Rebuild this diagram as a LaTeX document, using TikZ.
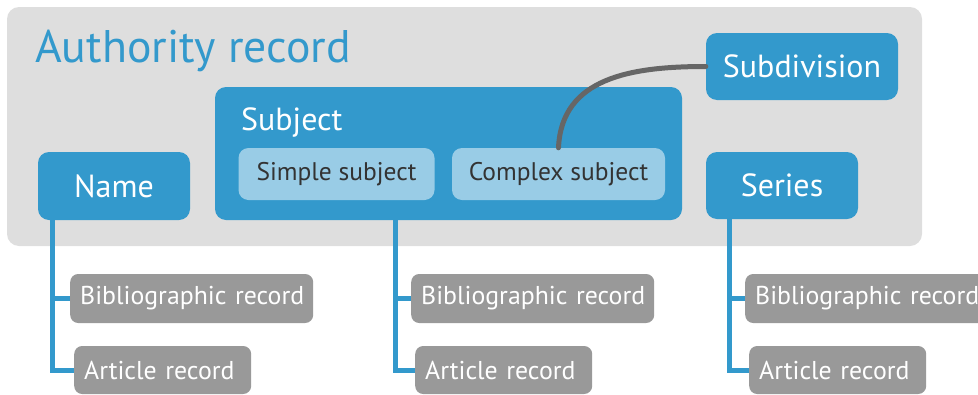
\documentclass[tikz,border=0pt]{standalone}
\usepackage{fontspec}
\setmainfont{PT Sans}
\usetikzlibrary{calc}
\definecolor{authblue}{HTML}{3399CC}
\definecolor{lightblue}{HTML}{99CCE6}
\definecolor{bggray}{HTML}{DEDEDE}
\definecolor{recgray}{HTML}{999999}
\definecolor{curvegray}{HTML}{666666}
\definecolor{darktext}{HTML}{333333}

\begin{document}
\begin{tikzpicture}[x=1pt, y=-1pt,
    bluebox/.style={fill=authblue, text=white, rounded corners=11pt, inner sep=0pt,
        font=\fontsize{32}{38}\selectfont},
    subbox/.style={fill=lightblue, text=darktext, rounded corners=10pt, inner sep=0pt,
        minimum height=52pt, font=\fontsize{25.5}{30}\selectfont},
    recbox/.style={fill=recgray, text=white, rounded corners=8pt, anchor=west,
        inner xsep=10pt, inner ysep=0pt, align=left, font=\fontsize{25.8}{31}\selectfont},
    trunk/.style={draw=authblue, line width=5pt}]
    \useasboundingbox (0,0) rectangle (978,394);

    % 背景 Authority record
    \fill[bggray, rounded corners=12pt] (7,7) rectangle (922,246);
    \node[anchor=base west, inner sep=0pt, text=authblue, font=\fontsize{45.7}{52}\selectfont]
        (title) at (35,62) {Authority record};

    % Subject 及其子类
    \node[bluebox, minimum width=467pt, minimum height=133pt] (subject) at (448.5,153.5) {};
    \node[anchor=base west, inner sep=0pt, text=white, font=\fontsize{32}{38}\selectfont]
        (subjectlabel) at (241,130) {Subject};
    \node[subbox, minimum width=196pt] (simple) at (336.5,174) {Simple subject};
    \node[subbox, minimum width=213pt] (complex) at (558.5,174) {Complex subject};

    % Name, Subdivision, Series
    \node[bluebox, minimum width=152pt, minimum height=68pt] (name) at (114,186) {Name};
    \node[bluebox, minimum width=192pt, minimum height=67pt] (subdivision) at (802,66.5) {Subdivision};
    \node[bluebox, minimum width=152pt, minimum height=67pt] (series) at (782,185.5) {Series};

    % Complex subject -- Subdivision 曲线
    \draw[curvegray, line width=5pt, line cap=round]
        (complex.north) .. controls +(3,-70) and +(-75,0) .. (subdivision.west);

    % 记录框
    \node[recbox, text width=223pt, minimum height=49pt] (bibA) at (70,298.5) {\mbox{Bibliographic record}};
    \node[recbox, text width=157pt, minimum height=48pt] (artA) at (74,370) {\mbox{Article record}};
    \node[recbox, text width=223pt, minimum height=49pt] (bibB) at (411,298.5) {\mbox{Bibliographic record}};
    \node[recbox, text width=157pt, minimum height=48pt] (artB) at (415,370) {\mbox{Article record}};
    \node[recbox, text width=223pt, minimum height=49pt] (bibC) at (745,298.5) {\mbox{Bibliographic record}};
    \node[recbox, text width=157pt, minimum height=48pt] (artC) at (749,370) {\mbox{Article record}};

    % 连接线
    \coordinate (trunkA) at ($(name.south west)+(14.5,0)$);
    \coordinate (trunkB) at ($(subject.south west)+(180.5,0)$);
    \coordinate (trunkC) at ($(series.south west)+(23.5,0)$);
    \draw[trunk] (trunkA) |- (artA.west);
    \draw[trunk] (trunkA |- bibA.west) -- (bibA.west);
    \draw[trunk] (trunkB) |- (artB.west);
    \draw[trunk] (trunkB |- bibB.west) -- (bibB.west);
    \draw[trunk] (trunkC) |- (artC.west);
    \draw[trunk] (trunkC |- bibC.west) -- (bibC.west);
\end{tikzpicture}
\end{document}
